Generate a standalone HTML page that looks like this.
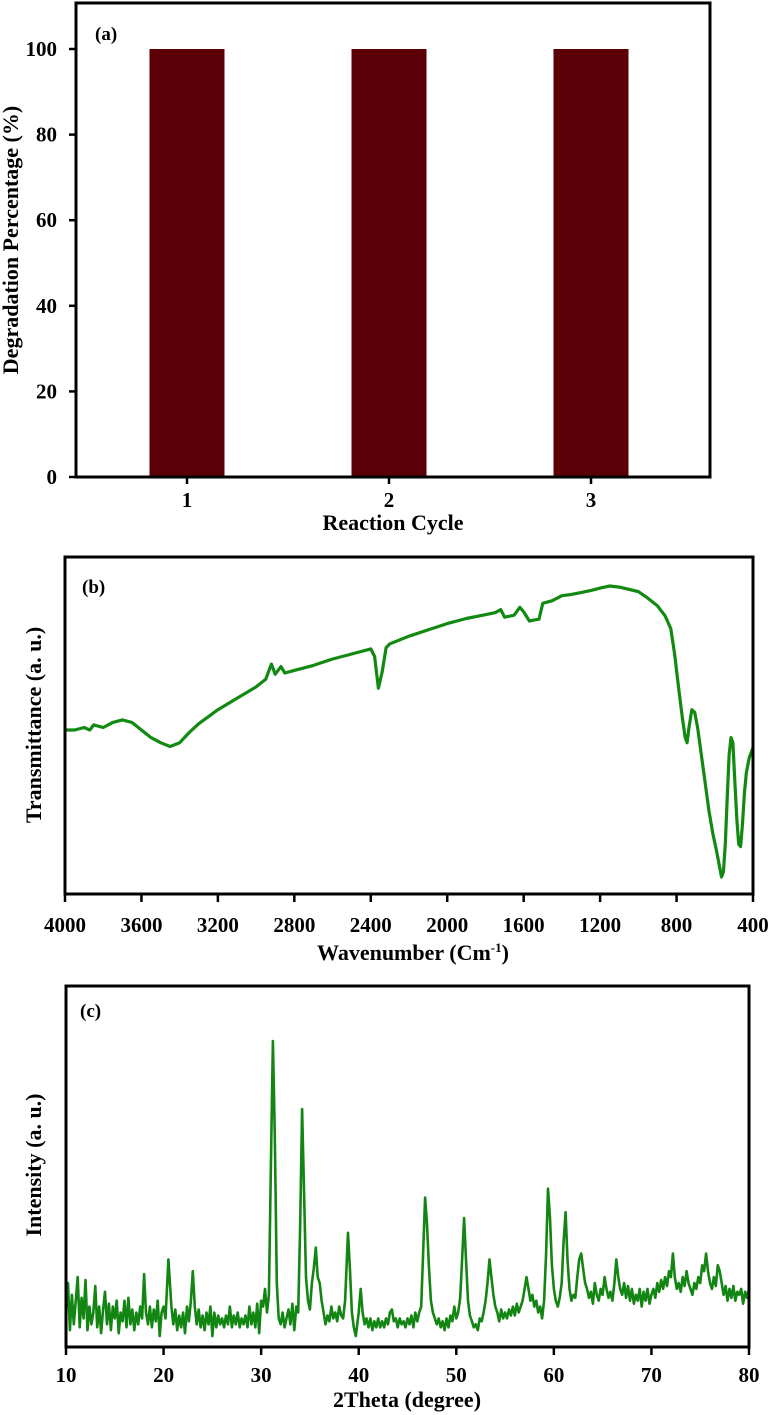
<!DOCTYPE html>
<html><head><meta charset="utf-8"><style>
html,body{margin:0;padding:0;background:#fff}
svg{display:block}
text{font-family:"Liberation Serif",serif;font-weight:bold;fill:#000}
</style></head><body>
<svg id="fig" width="776" height="1415" viewBox="0 0 776 1415" xmlns="http://www.w3.org/2000/svg"></svg>
<script>
// ---- Panel (a) data ----
const cycles = ["1","2","3"];
const degradation = [100,100,100];
const aTicks = [0,20,40,60,80,100];
// ---- Panel (b) data: wavenumber vs transmittance (arbitrary) ----
const ftirWave = [4000,3950,3900,3870,3850,3800,3750,3700,3650,3600,3550,3500,3450,3400,3350,3300,3200,3100,3000,2950,2920,2900,2870,2850,2800,2700,2600,2500,2400,2380,2360,2340,2320,2300,2200,2100,2000,1900,1800,1750,1720,1700,1650,1620,1600,1570,1540,1520,1500,1450,1400,1350,1300,1250,1200,1150,1100,1050,1000,950,900,860,830,810,790,770,755,745,735,720,705,690,670,650,630,610,590,575,565,555,545,535,525,515,505,495,485,475,465,455,445,435,420,400];
const ftirT = [55,55,56,55,57,56,58,59,58,55,52,50,48.5,50,54,57.5,63,67.5,72,75,81,77,80,77.5,78.5,80.5,83,85,87,84,71.5,78,87.5,89,92,94.5,97,99,100.5,101.3,102.5,99.5,100.3,103.4,101.6,98,98.5,98.7,105,106,108,108.5,109.2,110,111,111.8,111.4,110.5,109.6,107,104,100,95,85,72,60,52,50,56,63,62,56,45,34,23,14,7,1,-3,-1,10,28,45,52,50,35,20,10,9,18,30,38,44,48];
const ftirTicks = [4000,3600,3200,2800,2400,2000,1600,1200,800,400];
// ---- Panel (c) data: XRD ----
const xrdTheta = [10,10.2,10.4,10.6,10.8,11,11.2,11.4,11.6,11.8,12,12.2,12.4,12.6,12.8,13,13.2,13.4,13.6,13.8,14,14.2,14.4,14.6,14.8,15,15.2,15.4,15.6,15.8,16,16.2,16.4,16.6,16.8,17,17.2,17.4,17.6,17.8,18,18.2,18.4,18.6,18.8,19,19.2,19.4,19.6,19.8,20,20.2,20.5,20.8,21,21.2,21.4,21.6,21.8,22,22.2,22.4,22.6,22.8,23,23.2,23.4,23.6,23.8,24,24.2,24.4,24.6,24.8,25,25.2,25.4,25.6,25.8,26,26.2,26.4,26.6,26.8,27,27.2,27.4,27.6,27.8,28,28.2,28.4,28.6,28.8,29,29.2,29.4,29.6,29.8,30,30.2,30.4,30.6,30.8,31,31.2,31.4,31.6,31.8,32,32.2,32.4,32.6,32.8,33,33.2,33.4,33.6,33.8,34,34.2,34.4,34.6,34.8,35,35.2,35.4,35.6,35.8,36,36.2,36.4,36.6,36.8,37,37.2,37.4,37.6,37.8,38,38.2,38.4,38.6,38.9,39.1,39.3,39.5,39.7,40,40.2,40.4,40.6,40.8,41,41.2,41.4,41.6,41.8,42,42.2,42.4,42.6,42.8,43,43.2,43.4,43.6,43.8,44,44.2,44.4,44.6,44.8,45,45.2,45.4,45.6,45.8,46,46.2,46.4,46.6,46.8,47,47.2,47.4,47.6,47.8,48,48.2,48.4,48.6,48.8,49,49.2,49.4,49.6,49.8,50,50.2,50.4,50.6,50.8,51,51.2,51.4,51.6,51.8,52,52.2,52.4,52.6,52.8,53,53.2,53.4,53.6,53.8,54,54.2,54.4,54.6,54.8,55,55.2,55.4,55.6,55.8,56,56.2,56.4,56.6,56.8,57,57.2,57.4,57.6,57.8,58,58.2,58.4,58.6,58.8,59,59.2,59.4,59.6,59.8,60,60.2,60.4,60.6,60.8,61,61.2,61.4,61.6,61.8,62,62.2,62.4,62.6,62.8,63,63.2,63.4,63.6,63.8,64,64.2,64.4,64.6,64.8,65,65.2,65.4,65.6,65.8,66,66.2,66.4,66.6,66.8,67,67.2,67.4,67.6,67.8,68,68.2,68.4,68.6,68.8,69,69.2,69.4,69.6,69.8,70,70.2,70.4,70.6,70.8,71,71.2,71.4,71.6,71.8,72,72.2,72.4,72.6,72.8,73,73.2,73.4,73.6,73.8,74,74.2,74.4,74.6,74.8,75,75.2,75.4,75.6,75.8,76,76.2,76.4,76.6,76.8,77,77.2,77.4,77.6,77.8,78,78.2,78.4,78.6,78.8,79,79.2,79.4,79.6,79.8,80];
const xrdI = [10,20,4,16,6,14,22,5,15,8,21,4,12,6,10,19,5,12,3,11,17,6,13,4,12,8,14,3,10,7,14,5,15,6,11,4,10,6,12,8,23,10,6,12,5,11,7,14,2,10,12,8,28,12,6,11,4,9,5,10,3,12,7,14,24,12,6,11,5,9,4,10,6,12,2,10,5,9,6,8,5,9,6,12,5,9,6,10,5,8,6,9,5,12,6,10,5,13,3,14,12,18,10,16,60,102,70,20,8,6,10,5,8,11,6,13,4,12,10,40,79,50,22,14,11,20,25,32,22,20,14,10,6,9,7,12,8,10,7,12,9,8,14,37,25,10,5,2,10,18,10,6,8,5,8,4,7,5,8,5,7,5,8,6,10,11,7,8,5,8,6,7,5,8,6,9,5,10,7,10,12,30,49,40,25,14,10,8,6,8,5,7,4,8,5,9,7,12,8,10,15,28,42,28,14,9,7,5,6,4,8,7,10,14,20,28,22,16,12,10,7,11,8,10,8,11,9,12,9,13,10,12,14,18,22,18,14,16,12,14,10,12,8,14,30,52,42,26,18,14,12,15,20,34,44,28,18,14,16,15,22,28,30,25,20,18,15,17,13,20,16,14,18,16,22,18,15,17,14,20,28,22,18,16,20,15,19,14,18,13,16,14,18,12,17,14,18,13,16,18,15,20,17,21,18,22,19,24,22,30,22,18,20,17,22,19,24,20,18,16,20,18,22,20,26,24,30,24,20,18,22,19,26,24,20,16,19,14,18,15,19,14,17,16,18,13,17,15,18];
const xrdTicks = [10,20,30,40,50,60,70,80];

const NS="http://www.w3.org/2000/svg";
const svg=document.getElementById('fig');
function mk(tag,attrs,parent){const e=document.createElementNS(NS,tag);for(const k in attrs)e.setAttribute(k,attrs[k]);(parent||svg).appendChild(e);return e;}
function txt(s,attrs,parent){const e=mk('text',attrs,parent);e.textContent=s;return e;}
const TF=21, TT=22;

// ===== Panel A =====
const A={l:76,r:710,t:3,b:477};
const ga=mk('g',{});


const ay=v=>A.b-(v/100)*(A.b-49);
const ax=i=>187+i*202;
degradation.forEach((v,i)=>{
  const r=mk('rect',{x:ax(i)-37.5,y:ay(v),width:75,height:A.b-ay(v),fill:'#5a0006'},ga);
  
  
});
const fa=mk('rect',{x:A.l,y:A.t,width:A.r-A.l,height:A.b-A.t,fill:'none',stroke:'#000','stroke-width':3},ga);


aTicks.forEach(v=>{
  mk('line',{x1:A.l-7,x2:A.l,y1:ay(v),y2:ay(v),stroke:'#000','stroke-width':2.5},ga);
  const t=txt(String(v),{x:A.l-19,y:ay(v)+7,'text-anchor':'end','font-size':TF},ga);
  
  
});
cycles.forEach((c,i)=>{
  mk('line',{x1:ax(i),x2:ax(i),y1:A.b,y2:A.b+7,stroke:'#000','stroke-width':2.5},ga);
  const t=txt(c,{x:ax(i),y:507,'text-anchor':'middle','font-size':TF},ga);
  
  
});
txt('(a)',{x:95,y:40,'font-size':19,},ga);
txt('Reaction Cycle',{x:393,y:530,'text-anchor':'middle','font-size':TT,},ga);
txt('Degradation Percentage (%)',{x:0,y:0,'text-anchor':'middle','font-size':TT,transform:'translate(18,240) rotate(-90)',},ga);

// ===== Panel B =====
const B={l:65,r:753,t:557,b:894};
const gb=mk('g',{});


const bx=w=>B.l+(4000-w)/3600*(B.r-B.l);
const by=v=>877-(v-(-3))*(877-583)/(113-(-3));
let dB=ftirWave.map((w,i)=>(i?'L':'M')+bx(w).toFixed(1)+','+by(ftirT[i]).toFixed(1)).join(' ');
const pb=mk('path',{d:dB,fill:'none',stroke:'#128a12','stroke-width':3.2,'stroke-linejoin':'round'},gb);


const fb=mk('rect',{x:B.l,y:B.t,width:B.r-B.l,height:B.b-B.t,fill:'none',stroke:'#000','stroke-width':3},gb);


ftirTicks.forEach(w=>{
  mk('line',{x1:bx(w),x2:bx(w),y1:B.b,y2:B.b+8,stroke:'#000','stroke-width':2.5},gb);
  const t=txt(String(w),{x:bx(w),y:932,'text-anchor':'middle','font-size':TF},gb);
  
  
});
txt('(b)',{x:82,y:593,'font-size':19,},gb);
const tb=txt('Wavenumber (Cm',{x:413,y:960,'text-anchor':'middle','font-size':TT,},gb);
const sup=mk('tspan',{dy:-8,'font-size':13},tb);sup.textContent='-1';
const cl=mk('tspan',{dy:8},tb);cl.textContent=')';
txt('Transmittance (a. u.)',{x:0,y:0,'text-anchor':'middle','font-size':TT,transform:'translate(41,725) rotate(-90)',},gb);

// ===== Panel C =====
const C={l:66,r:749,t:986,b:1347};
const gc=mk('g',{});


const cx=t=>C.l+(t-10)/70*(C.r-C.l);
const cy=v=>C.b-5-v*2.95;
let dC=xrdTheta.map((t,i)=>(i?'L':'M')+cx(t).toFixed(1)+','+cy(xrdI[i]).toFixed(1)).join(' ');
const pc=mk('path',{d:dC,fill:'none',stroke:'#138513','stroke-width':2.6,'stroke-linejoin':'round'},gc);


const fc=mk('rect',{x:C.l,y:C.t,width:C.r-C.l,height:C.b-C.t,fill:'none',stroke:'#000','stroke-width':3},gc);


xrdTicks.forEach(t=>{
  mk('line',{x1:cx(t),x2:cx(t),y1:C.b,y2:C.b+8,stroke:'#000','stroke-width':2.5},gc);
  const e=txt(String(t),{x:cx(t),y:1382,'text-anchor':'middle','font-size':TF},gc);
  
  
});
txt('(c)',{x:80,y:1017,'font-size':19,},gc);
txt('2Theta (degree)',{x:407,y:1407,'text-anchor':'middle','font-size':TT,},gc);
txt('Intensity (a. u.)',{x:0,y:0,'text-anchor':'middle','font-size':TT,transform:'translate(41,1165) rotate(-90)',},gc);
</script>
</body></html>
